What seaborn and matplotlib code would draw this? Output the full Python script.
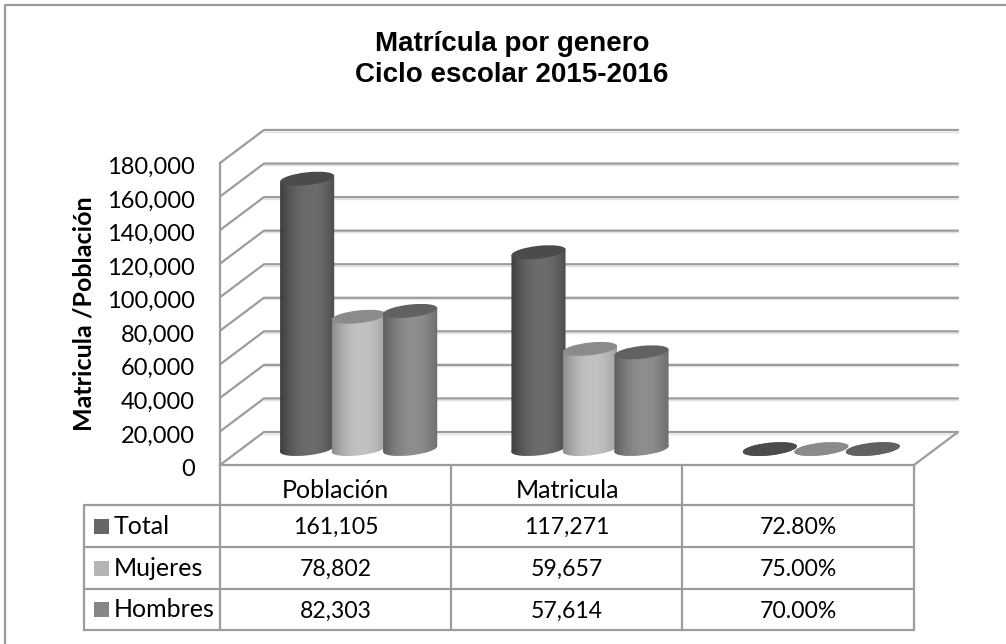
import numpy as np
import pandas as pd
import matplotlib
matplotlib.use("Agg")
import matplotlib.pyplot as plt
import seaborn as sns
from matplotlib.patches import PathPatch, Rectangle
from matplotlib.path import Path
from matplotlib.transforms import Affine2D, ScaledTranslation

categorias = ["Población", "Matricula", ""]
series = ["Total", "Mujeres", "Hombres"]
total = [161105, 117271, 0.728]
mujeres = [78802, 59657, 0.75]
hombres = [82303, 57614, 0.70]
y_ticks = [0, 20000, 40000, 60000, 80000, 100000, 120000, 140000, 160000, 180000]

leyenda = ["#666666", "#b4b4b4", "#868686"]
bordes = ["#3d3d3d", "#8c8c8c", "#5c5c5c"]
claros = ["#6c6c6c", "#c2c2c2", "#8e8e8e"]
tapas = ["#4b4b4b", "#8b8b8b", "#616161"]
gris = "#9c9c9c"

df = pd.DataFrame({
    "categoria": categorias * 3,
    "serie": np.repeat(series, 3),
    "valor": total + mujeres + hombres,
})

sns.set_theme(style="white")
plt.rcParams["font.family"] = ["Lato", "DejaVu Sans"]

W, H = 1006, 644
fig = plt.figure(figsize=(W / 100, H / 100), dpi=100, facecolor="white")

# capa en pixeles para la falsa perspectiva
lienzo = fig.add_axes([0, 0, 1, 1], zorder=1)
lienzo.axis("off")

# plano frontal: eje real de valores y categorias
ax = fig.add_axes([220 / W, 1 - 465 / H, 694 / W, 302 / H], zorder=2)
ax.patch.set_alpha(0)
sns.barplot(data=df, x="categoria", y="valor", hue="serie", hue_order=series,
            palette=leyenda, width=0.668, gap=-0.05, legend=False,
            order=categorias, ax=ax)
ax.set_ylim(0, 180000)
ax.set_xlim(-0.5, 2.5)
ax.set_yticks(y_ticks)
ax.set_yticklabels([f"{v:,}" for v in y_ticks], fontsize=17, color="black")
ax.tick_params(axis="y", length=0, pad=18)
ax.tick_params(axis="x", length=0, pad=10, labelsize=18, labelcolor="black")
for etiqueta in ax.get_yticklabels():
    etiqueta.set_transform(etiqueta.get_transform() + ScaledTranslation(0, -2.5 / 100, fig.dpi_scale_trans))
ax.set_xlabel("")
ax.set_ylabel("Matricula /Población", fontsize=18, fontweight="bold", color="black")
ax.yaxis.set_label_coords(-124 / 694, 0.5)
sns.despine(ax=ax, top=True, right=True)
for lado in ["left", "bottom"]:
    ax.spines[lado].set_color(gris)
    ax.spines[lado].set_linewidth(1.6)


def a_pixel(x, y):
    px, py = ax.transData.transform((x, y))
    return px, H - py


# profundidad de la caja y de las barras
dx_fondo, dy_fondo = 44, -33
dx_barra, dy_barra = 23, -16

for v in y_ticks:
    x0, y0 = a_pixel(-0.5, v)
    x1 = a_pixel(2.5, v)[0]
    xs = [x0, x0 + dx_fondo, x1 + dx_fondo]
    ys = [y0, y0 + dy_fondo, y0 + dy_fondo]
    lienzo.plot(xs[1:], [y + 1.5 for y in ys[1:]], color="#e2e2e2", lw=1, zorder=1)
    lienzo.plot(xs, ys, color=gris, lw=1.6, zorder=2, solid_joinstyle="miter")

# lado derecho del piso
x0, y0 = a_pixel(2.5, 0)
lienzo.plot([x0, x0 + dx_fondo], [y0, y0 + dy_fondo], color=gris, lw=1.6, zorder=2)


def elipse_cilindro(cx, cy, ancho):
    # elipse inclinada con tangentes verticales en los costados
    return Path.unit_circle().transformed(
        Affine2D(np.array([[ancho / 2, 0, cx], [-0.105 * ancho / 2, 6.4, cy], [0, 0, 1]])))


# cilindros a partir de las barras de seaborn
t = np.linspace(0, 1, 80)[None, :]
sombra = np.clip(1 - ((t - 0.55) / 0.55) ** 2, 0, 1)
barras = sorted(ax.patches, key=lambda p: p.get_x())
z = 5
for i, barra in enumerate(barras):
    serie = i % 3
    x_izq, y_top = a_pixel(barra.get_x(), barra.get_height())
    x_der, y_base = a_pixel(barra.get_x() + barra.get_width(), 0)
    barra.set_visible(False)
    x_izq, x_der = x_izq + dx_barra, x_der + dx_barra
    y_top, y_base = y_top + dy_barra, y_base + dy_barra
    cx = (x_izq + x_der) / 2
    ancho = x_der - x_izq
    caida = 0.105 * ancho / 2

    rect = Path([(x_izq, y_top + caida), (x_der, y_top - caida), (x_der, y_base - caida),
                 (x_izq, y_base + caida), (x_izq, y_top + caida)], closed=True)
    base = elipse_cilindro(cx, y_base, ancho)
    forma = Path.make_compound_path(rect, base)

    borde = np.array(matplotlib.colors.to_rgb(bordes[serie]))
    claro = np.array(matplotlib.colors.to_rgb(claros[serie]))
    img = borde[None, None, :] + (claro - borde)[None, None, :] * sombra[:, :, None]
    im = lienzo.imshow(img, extent=(x_izq, x_der, y_base + 10, y_top - 4), aspect="auto", zorder=z)
    im.set_clip_path(PathPatch(forma, transform=lienzo.transData))

    lienzo.add_patch(PathPatch(elipse_cilindro(cx, y_top, ancho), facecolor=tapas[serie],
                               edgecolor="none", zorder=z + 1))
    z += 2

# tabla de datos
x_cols = [84, 220, 451.5, 682.5, 914]
y_filas = [505, 547, 589, 630]
for y in y_filas:
    lienzo.plot([x_cols[0], x_cols[-1]], [y, y], color=gris, lw=1.6, zorder=3)
for x in x_cols:
    lienzo.plot([x, x], [y_filas[0] if x == x_cols[0] else 465, y_filas[-1]], color=gris, lw=1.6, zorder=3)

for j, (nombre, valores) in enumerate(zip(series, [total, mujeres, hombres])):
    y_c = (y_filas[j] + y_filas[j + 1]) / 2 + 1.5
    lienzo.add_patch(Rectangle((94, y_c - 9), 15, 15, facecolor=leyenda[j], edgecolor="none", zorder=4))
    lienzo.text(114, y_c - 1.5, nombre, fontsize=18, va="center", ha="left", color="black")
    textos = [f"{valores[0]:,}", f"{valores[1]:,}", f"{valores[2]:.2%}"]
    for k, texto in enumerate(textos):
        lienzo.text((x_cols[k + 1] + x_cols[k + 2]) / 2, y_c, texto, fontsize=16.6,
                    va="center", ha="center", color="black")

# marco exterior y titulo
lienzo.plot([5, 5, W], [H, 5, 5], color="#9a9a9a", lw=1.6, zorder=1)
lienzo.text(512, 59.5, "Matrícula por genero\nCiclo escolar 2015-2016", fontsize=20,
            fontweight="bold", family="Liberation Sans", ha="center", va="center",
            linespacing=1.25, color="black")

lienzo.set_xlim(0, W)
lienzo.set_ylim(H, 0)

fig.savefig("out.png", dpi=100)
